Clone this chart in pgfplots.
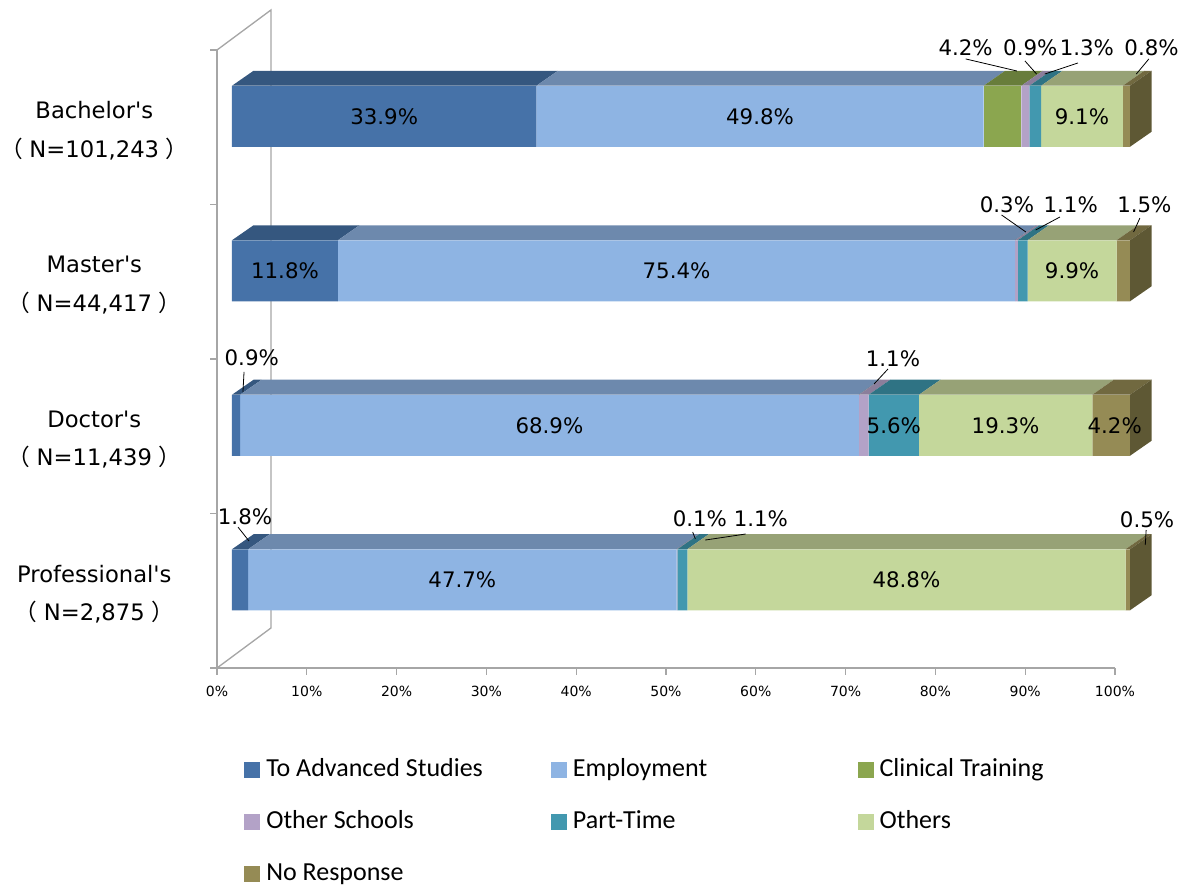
\documentclass[border=0pt]{standalone}
\usepackage{fontspec}
\usepackage{pgfplots}
\usepackage{pgfplotstable}
\pgfplotsset{compat=1.18}

\newfontfamily\jp{Noto Sans CJK JP}
\newfontfamily\dv{DejaVu Sans}
\newfontfamily\leg{Carlito}
\newcommand\cat{\dv\fontsize{17}{29}\selectfont}
\newcommand\lab{\dv\fontsize{16}{19}\selectfont}
\newcommand\tickf{\dv\fontsize{10.5}{12}\selectfont}
\newcommand\legf{\leg\fontsize{19.5}{23}\selectfont}
\newcommand\lp{{\jp （}\hspace{5pt}}
\newcommand\rp{\hspace{5pt}{\jp ）}}

\definecolor{wall}{HTML}{A6A6A6}
\definecolor{c1}{HTML}{4672A8}\definecolor{c1top}{HTML}{35577F}
\definecolor{c2}{HTML}{8EB4E3}\definecolor{c2top}{HTML}{6D89AD}
\definecolor{c3}{HTML}{8BA64F}\definecolor{c3top}{HTML}{687D3B}
\definecolor{c4}{HTML}{B3A2C7}\definecolor{c4top}{HTML}{8B7E9B}
\definecolor{c5}{HTML}{4298AF}\definecolor{c5top}{HTML}{2F7384}
\definecolor{c6}{HTML}{C4D79B}\definecolor{c6top}{HTML}{97A276}
\definecolor{c7}{HTML}{958B55}\definecolor{c7top}{HTML}{716940}
\definecolor{c7side}{HTML}{5E5834}

% shares in %, one row per degree (bottom to top)
\pgfplotstableread{
pos adv  emp  cli osc part oth  nr
0.5 1.8  47.7 0   0.1 1.1  48.8 0.5
1.5 0.9  68.9 0   1.1 5.6  19.3 4.2
2.5 11.8 75.4 0   0.3 1.1  9.9  1.5
3.5 33.9 49.8 4.2 0.9 1.3  9.1  0.8
}\data

% depth of the 3d bars, in axis units
\def\dx{2.4}
\def\dy{0.097}
\def\bw{0.395}

\newcommand\onetop[3]{%
  \pgfplotstablegetelem{#1}{#2}\of\data
  \pgfmathsetmacro\xb{\xa+\pgfplotsretval}%
  \pgfmathsetmacro\xc{\xa+\dx}%
  \pgfmathsetmacro\xd{\xb+\dx}%
  \edef\tmp{\noexpand\addplot[fill=#3top, draw=none] coordinates {(\xa,\yf) (\xb,\yf) (\xd,\yb) (\xc,\yb)} --cycle;}%
  \tmp
  \global\let\xa\xb
}
\newcommand\barfaces[2]{%
  \pgfmathsetmacro\yf{#2+\bw/2}%
  \pgfmathsetmacro\yb{\yf+\dy}%
  \pgfmathsetmacro\ylo{#2-\bw/2}%
  \pgfmathsetmacro\ylb{\ylo+\dy}%
  \gdef\xa{0}%
  \onetop{#1}{adv}{c1}\onetop{#1}{emp}{c2}\onetop{#1}{cli}{c3}%
  \onetop{#1}{osc}{c4}\onetop{#1}{part}{c5}\onetop{#1}{oth}{c6}%
  \onetop{#1}{nr}{c7}%
  \pgfmathsetmacro\xr{\xa+\dx}%
  \edef\tmp{\noexpand\addplot[fill=c7side, draw=none] coordinates {(\xa,\ylo) (\xa,\yf) (\xr,\yb) (\xr,\ylb)} --cycle;}%
  \tmp
}

\pgfplotsset{
  common/.style={
    scale only axis, width=673.5pt, height=463.5pt,
    xmin=0, xmax=100, ymin=0, ymax=4,
    enlargelimits=false, clip=false,
  },
}

\begin{document}
\begin{tikzpicture}
% frame: wall, floor edge and ticks
\begin{axis}[
  common,
  anchor=origin, at={(0pt,0pt)},
  axis x line=bottom, axis y line=left,
  axis line style={draw=wall, line width=1pt, -},
  xtick={0,10,...,100},
  xticklabel={\pgfmathprintnumber{\tick}\%},
  xticklabel style={font=\tickf, yshift=-5pt},
  ytick={0,1,2,3,4}, yticklabels={},
  extra y ticks={0.5,1.5,2.5,3.5},
  extra y tick labels={{Professional's\\\lp N=2,875\rp},{Doctor's\\\lp N=11,439\rp},{Master's\\\lp N=44,417\rp},{Bachelor's\\\lp N=101,243\rp}},
  extra y tick style={major tick length=0pt,
    yticklabel style={anchor=center, xshift=-92pt, yshift=-2.5pt, align=center, font=\cat}},
  tick align=outside, major tick length=5pt,
  tick style={draw=wall, line width=1pt},
  /pgf/number format/assume math mode=true,
]
\draw[wall, line width=1pt] (axis cs:0,4) -- (axis cs:6.01,4.259) -- (axis cs:6.01,0.259) -- (axis cs:0,0);
\end{axis}

% front faces of the bars
\begin{axis}[
  common,
  anchor=origin, at={(11.25pt,8.25pt)},
  hide axis,
  xbar stacked, bar width=45.75pt,
  legend columns=3,
  legend style={draw=none, fill=none, at={(0.0134,-0.1590)}, anchor=north west,
    font=\legf, inner sep=0pt, column sep=0pt, row sep=18pt,
    nodes={inner sep=1.5pt, anchor=west, text height=14pt, text depth=4pt}},
  legend image code/.code={\fill[#1] (0pt,-6pt) rectangle (12pt,6pt); \path (15pt,0pt);},
]
\addplot[fill=c1, draw=none] table[x=adv, y=pos] {\data};
\addlegendentry{\makebox[212pt][l]{To Advanced Studies}}
\addplot[fill=c2, draw=none] table[x=emp, y=pos] {\data};
\addlegendentry{\makebox[212pt][l]{Employment}}
\addplot[fill=c3, draw=none] table[x=cli, y=pos] {\data};
\addlegendentry{\makebox[212pt][l]{Clinical Training}}
\addplot[fill=c4, draw=none] table[x=osc, y=pos] {\data};
\addlegendentry{\makebox[212pt][l]{Other Schools}}
\addplot[fill=c5, draw=none] table[x=part, y=pos] {\data};
\addlegendentry{\makebox[212pt][l]{Part-Time}}
\addplot[fill=c6, draw=none] table[x=oth, y=pos] {\data};
\addlegendentry{\makebox[212pt][l]{Others}}
\addplot[fill=c7, draw=none] table[x=nr, y=pos] {\data};
\addlegendentry{\makebox[212pt][l]{No Response}}
\end{axis}

% tops, end faces and data labels
\begin{axis}[
  common,
  anchor=origin, at={(11.25pt,8.25pt)},
  hide axis,
]
\barfaces{0}{0.5}
\barfaces{1}{1.5}
\barfaces{2}{2.5}
\barfaces{3}{3.5}

\tikzset{lbl/.style={font=\lab, inner sep=0pt}, lead/.style={black, line width=0.6pt}}
% Bachelor's
\node[lbl] at (axis cs:16.95,3.5) {33.9\%};
\node[lbl] at (axis cs:58.8,3.5) {49.8\%};
\node[lbl] at (axis cs:94.65,3.5) {9.1\%};
\node[lbl] at (axis cs:81.7,3.942) {4.2\%};
\node[lbl] at (axis cs:88.9,3.942) {0.9\%};
\node[lbl] at (axis cs:95.2,3.942) {1.3\%};
\node[lbl] at (axis cs:102.4,3.942) {0.8\%};
\draw[lead] (axis cs:81.7,3.871) -- (axis cs:87.4,3.793);
\draw[lead] (axis cs:88.3,3.858) -- (axis cs:89.6,3.773);
\draw[lead] (axis cs:94.2,3.845) -- (axis cs:90.5,3.773);
\draw[lead] (axis cs:102.1,3.871) -- (axis cs:100.7,3.773);
% Master's
\node[lbl] at (axis cs:5.9,2.5) {11.8\%};
\node[lbl] at (axis cs:49.5,2.5) {75.4\%};
\node[lbl] at (axis cs:93.55,2.5) {9.9\%};
\node[lbl] at (axis cs:86.3,2.926) {0.3\%};
\node[lbl] at (axis cs:93.4,2.926) {1.1\%};
\node[lbl] at (axis cs:101.6,2.926) {1.5\%};
\draw[lead] (axis cs:85.7,2.861) -- (axis cs:88.4,2.751);
\draw[lead] (axis cs:92.2,2.848) -- (axis cs:89.5,2.764);
\draw[lead] (axis cs:101.1,2.841) -- (axis cs:100.4,2.751);
% Doctor's
\node[lbl] at (axis cs:35.35,1.5) {68.9\%};
\node[lbl] at (axis cs:73.7,1.5) {5.6\%};
\node[lbl] at (axis cs:86.15,1.5) {19.3\%};
\node[lbl] at (axis cs:98.3,1.5) {4.2\%};
\node[lbl] at (axis cs:2.2,1.935) {0.9\%};
\node[lbl] at (axis cs:73.6,1.929) {1.1\%};
\draw[lead] (axis cs:1.34,1.845) -- (axis cs:1.22,1.715);
\draw[lead] (axis cs:73.05,1.864) -- (axis cs:71.5,1.767);
% Professional's
\node[lbl] at (axis cs:25.65,0.5) {47.7\%};
\node[lbl] at (axis cs:75.1,0.5) {48.8\%};
\node[lbl] at (axis cs:1.45,0.906) {1.8\%};
\node[lbl] at (axis cs:52.1,0.893) {0.1\%};
\node[lbl] at (axis cs:58.9,0.893) {1.1\%};
\node[lbl] at (axis cs:101.9,0.887) {0.5\%};
\draw[lead] (axis cs:0.67,0.841) -- (axis cs:1.89,0.751);
\draw[lead] (axis cs:51.3,0.809) -- (axis cs:51.6,0.764);
\draw[lead] (axis cs:57.2,0.796) -- (axis cs:52.7,0.757);
\draw[lead] (axis cs:101.8,0.822) -- (axis cs:101.7,0.725);
\end{axis}

\pgfresetboundingbox
\path[use as bounding box] (-162.75pt,-163.5pt) rectangle (724.5pt,501pt);
\end{tikzpicture}
\end{document}
